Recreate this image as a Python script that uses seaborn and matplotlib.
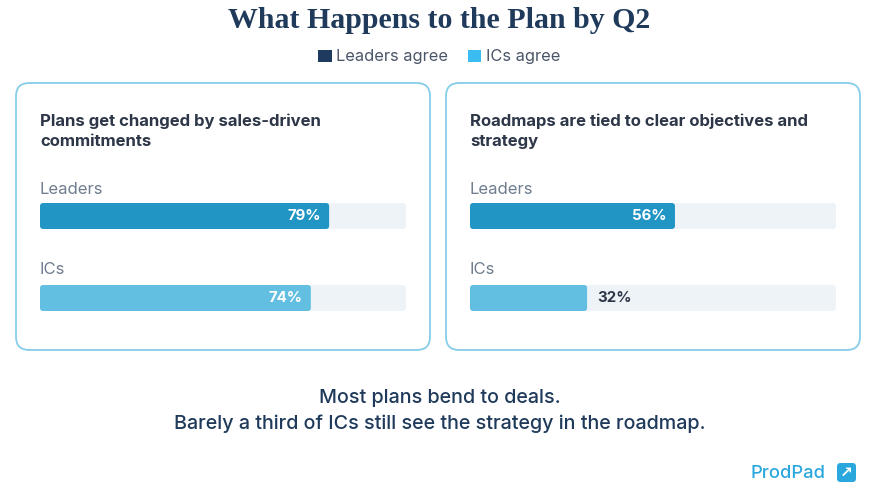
import matplotlib
matplotlib.use("Agg")
import matplotlib.pyplot as plt
from matplotlib.patches import FancyBboxPatch, Patch
import pandas as pd
import seaborn as sns

# data
groups = ["Leaders", "ICs"]
panel_titles = [
    "Plans get changed by sales-driven\ncommitments",
    "Roadmaps are tied to clear objectives and\nstrategy",
]
panel_values = [[79, 74], [56, 32]]
legend_labels = ["Leaders agree", "ICs agree"]
title = "What Happens to the Plan by Q2"
footer = "Most plans bend to deals.\nBarely a third of ICs still see the strategy in the roadmap."

W, H = 879, 496
NAVY = "#1f3a5a"
DARK = "#2d3748"
GREY = "#6f7d8e"
BAR_COLORS = {"Leaders": "#2196c4", "ICs": "#63bfe2"}
TRACK = "#eef3f8"
BORDER = "#86cdea"

sns.set_theme(style="white")
plt.rcParams["font.family"] = ["Inter", "DejaVu Sans"]


def fx(x):
    return x / W


def fy(y):
    return 1 - y / H


fig = plt.figure(figsize=(W / 100, H / 100), dpi=100)
fig.patch.set_facecolor("white")

fig.text(0.5, fy(21), title, ha="center", va="center", fontsize=21.5,
         family="Liberation Serif", fontweight="bold", color=NAVY)

handles = [Patch(facecolor="#1e3a5f", edgecolor="none"),
           Patch(facecolor="#3bbcf0", edgecolor="none")]
fig.legend(handles, legend_labels, loc="center", bbox_to_anchor=(0.5, fy(57)),
           ncol=2, frameon=False, fontsize=11.8, handlelength=0.8, handleheight=0.8,
           handletextpad=0.3, columnspacing=1.2, labelcolor="#4a5568")

card_x = [16, 446]
card_w, card_y, card_h = 414, 83, 267
track_x0, track_w = 24, 366
bar_top, bar_bot = 203, 311

for i in range(2):
    cx = card_x[i]
    card = FancyBboxPatch((fx(cx), fy(card_y + card_h)), fx(card_w), card_h / H,
                          boxstyle="round,pad=0,rounding_size=0.015",
                          mutation_aspect=W / H, transform=fig.transFigure,
                          facecolor="white", edgecolor=BORDER, linewidth=1.3, zorder=-1)
    fig.patches.append(card)

    fig.text(fx(cx + track_x0), fy(131), panel_titles[i], ha="left", va="center",
             fontsize=12, fontweight="bold", color=DARK, linespacing=1.4)
    fig.text(fx(cx + track_x0), fy(190), groups[0], ha="left", va="center",
             fontsize=12, color=GREY)
    fig.text(fx(cx + track_x0), fy(269), groups[1], ha="left", va="center",
             fontsize=12, color=GREY)

    ax = fig.add_axes([fx(cx + track_x0), fy(bar_bot), fx(track_w), (bar_bot - bar_top) / H])
    ax.set_zorder(2)
    ax.patch.set_alpha(0)
    df = pd.DataFrame({"group": groups, "value": panel_values[i], "track": [100, 100]})
    bw = 26 / 82
    sns.barplot(data=df, x="track", y="group", color=TRACK, width=bw, ax=ax,
                saturation=1, edgecolor="none")
    sns.barplot(data=df, x="value", y="group", hue="group", palette=BAR_COLORS,
                width=bw, ax=ax, saturation=1, legend=False, edgecolor="none")
    ax.set_xlim(0, 100)
    ax.set_ylim(1 + bw / 2, -bw / 2)
    ax.axis("off")

    # round the corners of the bars
    asp = (1 / 82) / (100 / track_w)
    for p in list(ax.patches):
        x0, y0 = p.get_x(), p.get_y()
        rb = FancyBboxPatch((x0, y0), p.get_width(), p.get_height(),
                            boxstyle="round,pad=0,rounding_size=0.9",
                            mutation_aspect=asp, facecolor=p.get_facecolor(),
                            edgecolor="none", zorder=p.get_zorder())
        p.set_visible(False)
        ax.add_patch(rb)

    for j, v in enumerate(panel_values[i]):
        if v >= 40:
            ax.text(v - 2.2, j, f"{v}%", ha="right", va="center", fontsize=10.8,
                    fontweight="bold", color="white", zorder=5)
        else:
            ax.text(v + 2.7, j, f"{v}%", ha="left", va="center", fontsize=10.8,
                    fontweight="bold", color=DARK, zorder=5)

fig.text(0.5, fy(411), footer, ha="center", va="center", fontsize=14.2,
         fontweight="medium", color=NAVY, linespacing=1.55)

# logo
fig.text(fx(826), fy(473), "ProdPad", ha="right", va="center", fontsize=13.2,
         fontweight="medium", color="#2aa7dd")
icon = FancyBboxPatch((fx(837), fy(482)), fx(19), 19 / H,
                      boxstyle="round,pad=0,rounding_size=0.004", mutation_aspect=W / H,
                      transform=fig.transFigure, facecolor="#2aa7dd", edgecolor="none")
fig.patches.append(icon)
fig.text(fx(846.5), fy(472.5), "\u2197", ha="center", va="center", fontsize=11,
         fontweight="bold", color="white", family="DejaVu Sans")

fig.savefig("out.png", dpi=100, facecolor="white")
